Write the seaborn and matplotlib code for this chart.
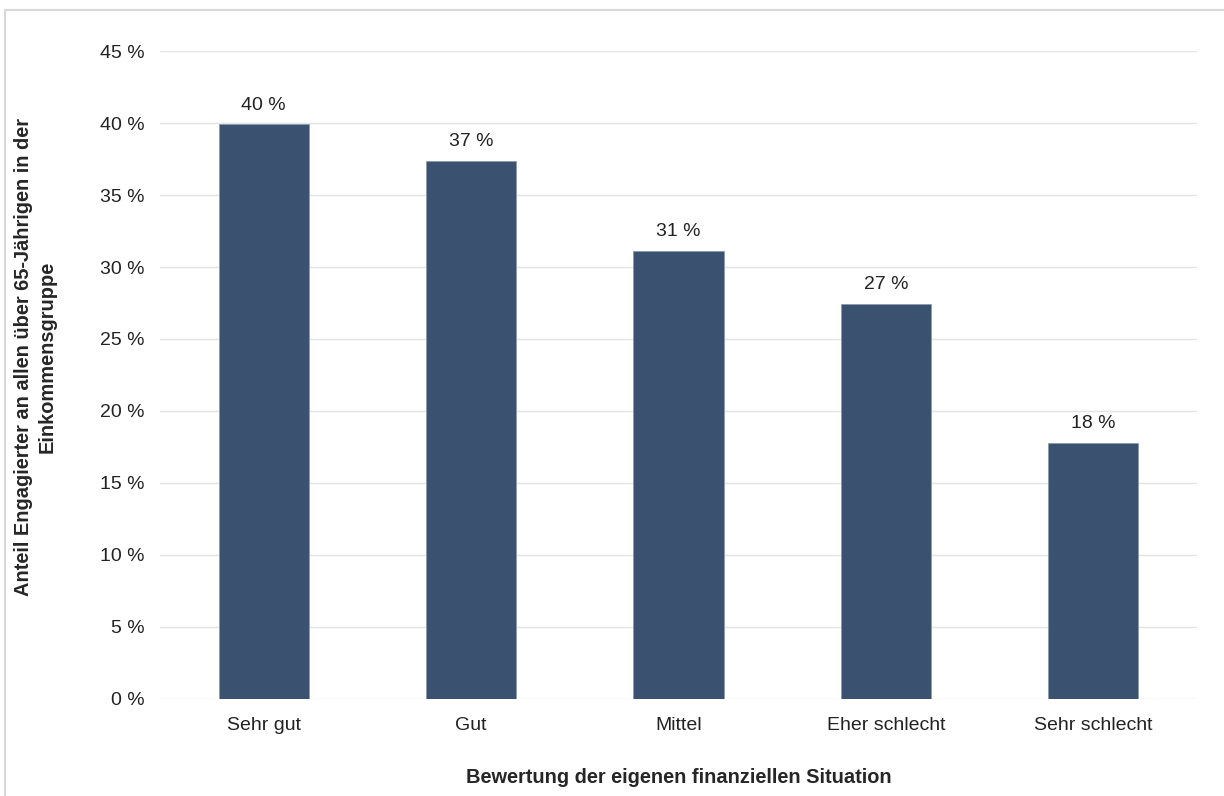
import matplotlib
matplotlib.use('Agg')
import matplotlib.pyplot as plt
from matplotlib.patches import Rectangle
import seaborn as sns
import pandas as pd

categories = ['Sehr gut', 'Gut', 'Mittel', 'Eher schlecht', 'Sehr schlecht']
values = [39.9, 37.35, 31.1, 27.45, 17.8]
yticks = [0, 5, 10, 15, 20, 25, 30, 35, 40, 45]

df = pd.DataFrame({'kategorie': categories, 'anteil': values})

sns.set_style('white')
plt.rcParams['font.family'] = ['Liberation Sans', 'DejaVu Sans']

fig = plt.figure(figsize=(12.24, 7.96), dpi=100)
ax = fig.add_axes([0.1307, 0.1219, 0.8473, 0.814])

sns.barplot(data=df, x='kategorie', y='anteil', color='#3a5170', width=0.435,
            edgecolor='#8a9ab0', linewidth=0.6, saturation=1, ax=ax)

ax.set_ylim(0, 45)
ax.set_xlim(-0.5, 4.5)
ax.set_yticks(yticks)
ax.set_yticklabels([f'{t} %' for t in yticks], fontsize=14, color='#222222')
ax.tick_params(axis='x', labelsize=14, colors='#222222', length=0, pad=13)
ax.tick_params(axis='y', length=0, pad=11)
ax.grid(axis='y', color='#e4e4e4', linewidth=1)
ax.set_axisbelow(True)
for s in ax.spines.values():
    s.set_visible(False)

for i, v in enumerate(values):
    ax.text(i, v + 0.75, f'{round(v)} %', ha='center', va='bottom', fontsize=14, color='#222222')

ax.set_xlabel('Bewertung der eigenen finanziellen Situation', fontsize=14.4,
              fontweight='bold')
ax.xaxis.set_label_coords(0.5, -0.106)
ax.set_ylabel('Anteil Engagierter an allen über 65-Jährigen in der\nEinkommensgruppe',
              fontsize=14.4, fontweight='bold', linespacing=1.3)
ax.yaxis.set_label_coords(-0.1, 0.528)

fig.patches.append(Rectangle((0.004, -0.05), 1.1, 1.037, transform=fig.transFigure,
                             fill=False, edgecolor='#d9d9d9', linewidth=1.5))

fig.savefig('out.png', dpi=100)
